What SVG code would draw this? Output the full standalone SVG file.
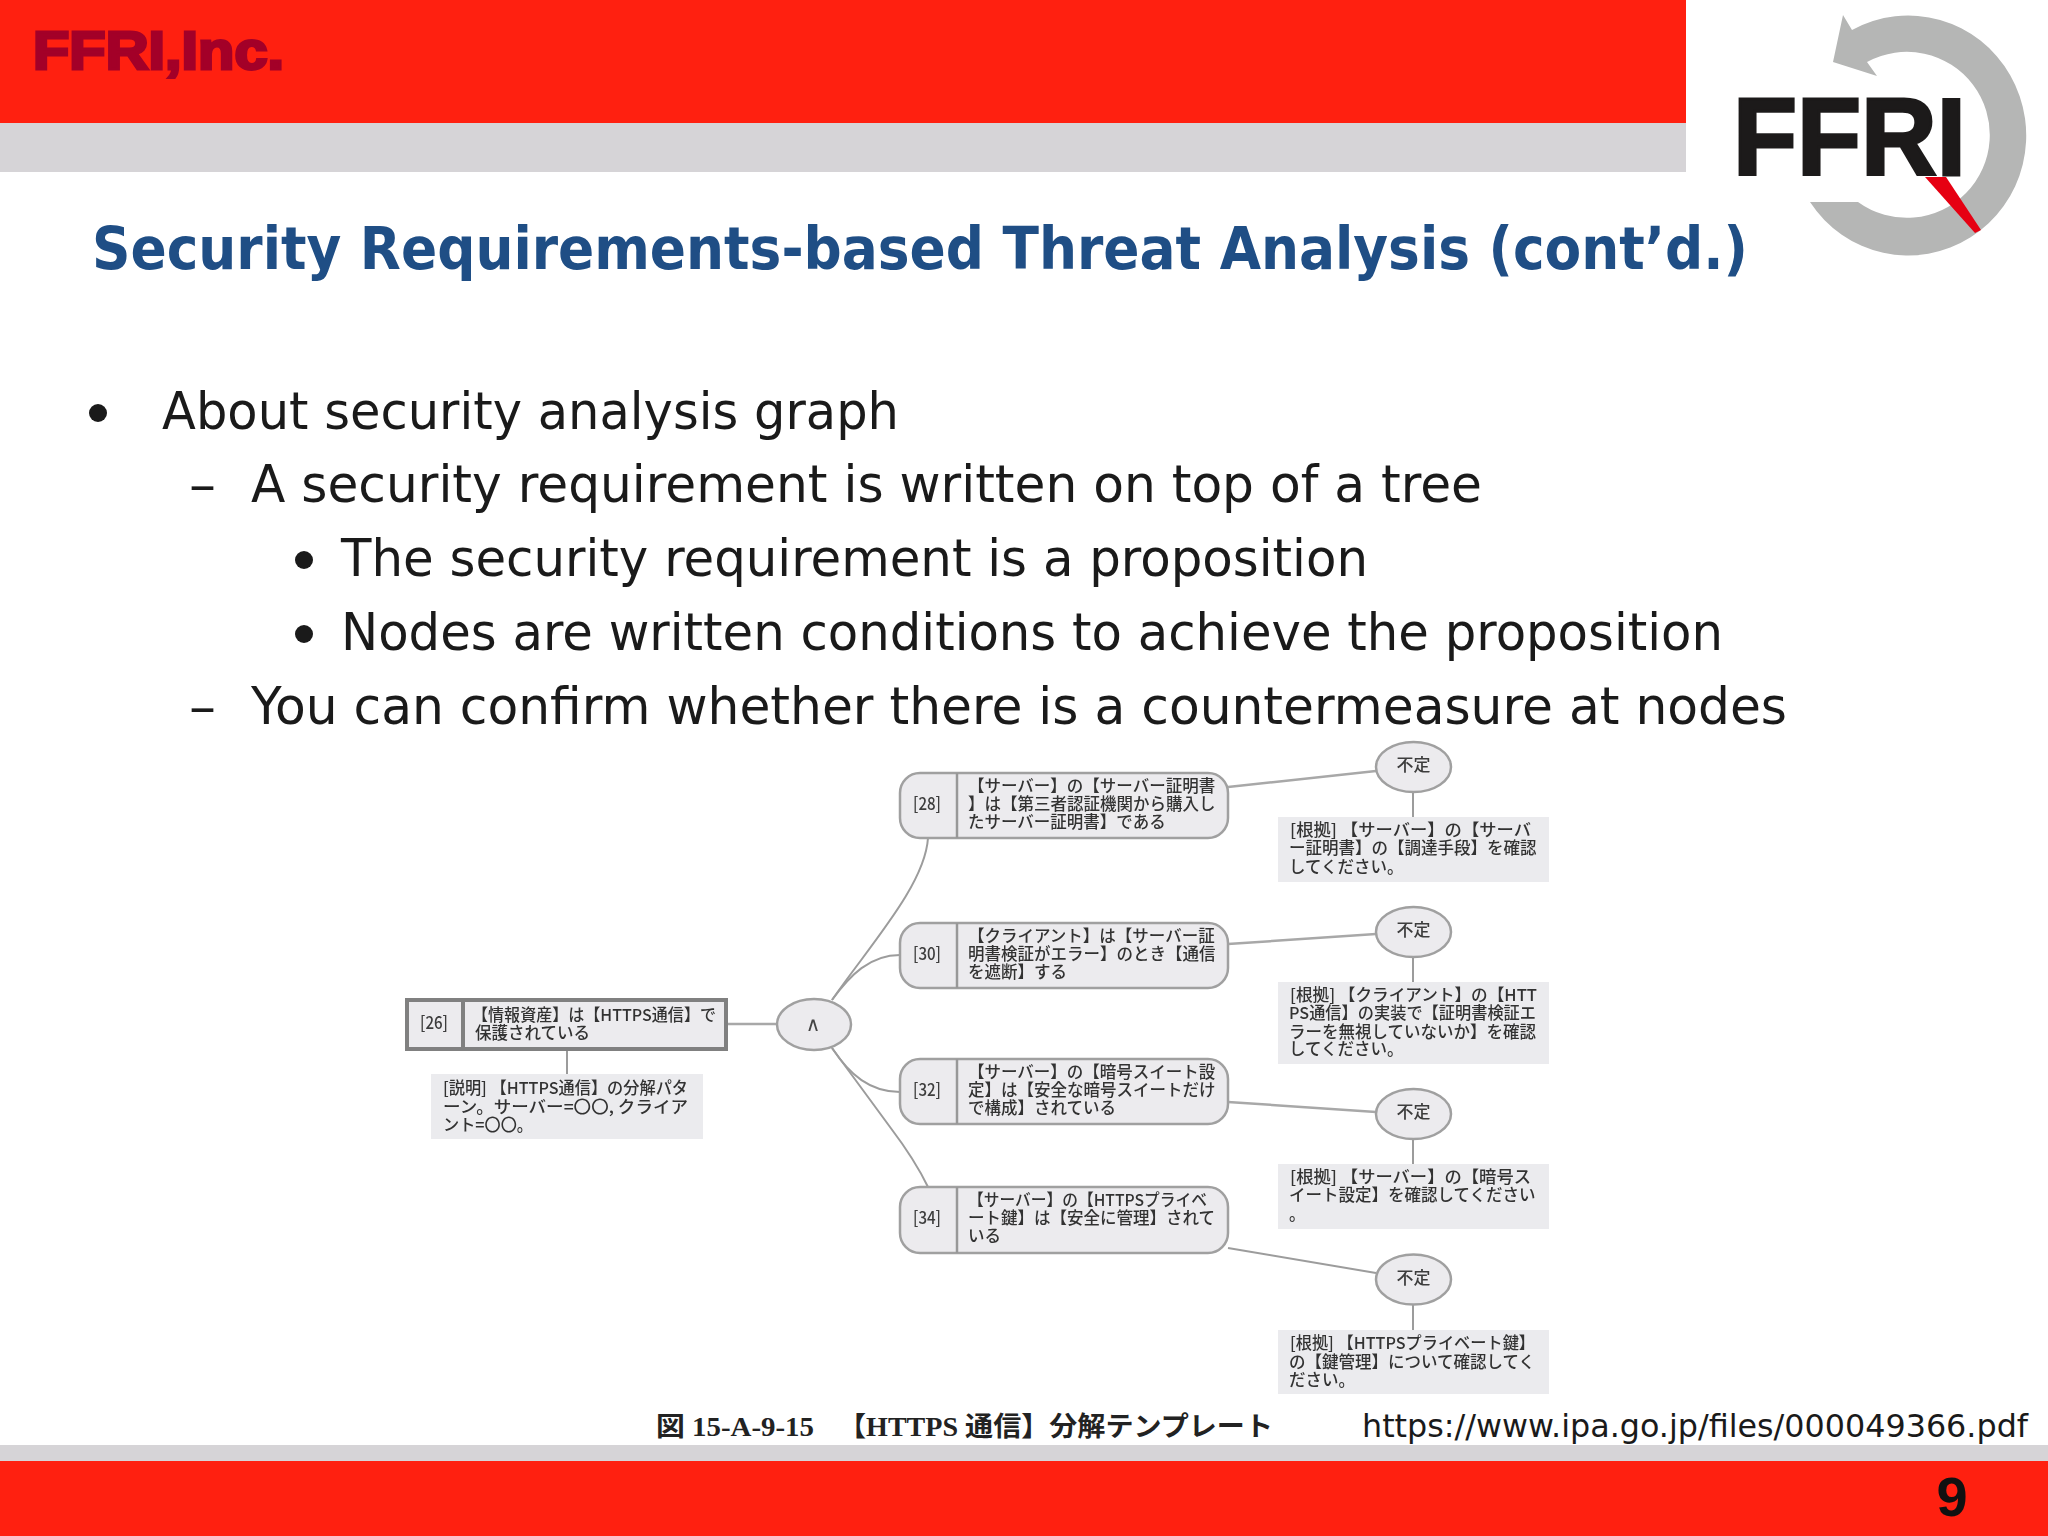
<svg xmlns="http://www.w3.org/2000/svg" width="2048" height="1536" viewBox="0 0 2048 1536">
<style>
.body{font-family:"DejaVu Sans","Noto Sans",sans-serif;font-size:52px;fill:#1a1a1a}
.jp{font-family:"Noto Sans CJK JP",sans-serif;font-size:16.5px;font-weight:500;fill:#333}
.id{font-family:"Noto Sans CJK JP",sans-serif;font-size:17px;font-weight:500;fill:#3c3c3c;text-anchor:middle}
.box{fill:#ecebee;stroke:#a0a0a0;stroke-width:2.5}
.note{fill:#ebebee}
.div{stroke:#989898;stroke-width:2.5;fill:none}
.line{stroke:#9c9c9c;stroke-width:2;fill:none}
.hv{stroke:#a8a8a8;stroke-width:2.5;fill:none}
</style>
<defs>
<filter id="soft" x="-2%" y="-2%" width="104%" height="104%"><feGaussianBlur stdDeviation="0.45"/></filter>
</defs>
<rect width="2048" height="1536" fill="#fff"/>
<g id="header">
<rect x="0" y="0" width="1686" height="123" fill="#ff2010"/>
<rect x="0" y="123" width="1686" height="49" fill="#d6d4d7"/>
<text x="33" y="69" font-family="Liberation Sans,sans-serif" font-weight="700" font-size="54" fill="#a30028" stroke="#a30028" stroke-width="3" textLength="251" lengthAdjust="spacingAndGlyphs">FFRI,Inc.</text>
</g>
<g id="logo">
<path d="M1810 202 A118 120 0 1 0 1852 30 L1843 15 L1833 62 L1877 76 L1867 62 A83 83 0 1 1 1858 202 Z" fill="#b5b6b5"/>
<text x="1733" y="175" font-family="Liberation Sans,sans-serif" font-weight="700" font-size="110" fill="#1c1a1a" stroke="#1c1a1a" stroke-width="3" textLength="233" lengthAdjust="spacingAndGlyphs">FFRI</text>
<polygon points="1925,177 1946,177 1981,230 1975,233" fill="#e60012"/>
</g>
<text id="title" x="92" y="269" font-family="DejaVu Sans,sans-serif" font-weight="700" font-size="58" fill="#1f4e85" textLength="1656" lengthAdjust="spacingAndGlyphs">Security Requirements-based Threat Analysis (cont’d.)</text>
<g id="bullets">
<circle cx="98" cy="413" r="9" fill="#1a1a1a"/>
<text class="body" x="162" y="429" textLength="737" lengthAdjust="spacingAndGlyphs">About security analysis graph</text>
<text class="body" x="189" y="502" textLength="27" lengthAdjust="spacingAndGlyphs">–</text>
<text class="body" x="251" y="502" textLength="1231" lengthAdjust="spacingAndGlyphs">A security requirement is written on top of a tree</text>
<circle cx="304" cy="560" r="9" fill="#1a1a1a"/>
<text class="body" x="341" y="576" textLength="1027" lengthAdjust="spacingAndGlyphs">The security requirement is a proposition</text>
<circle cx="304" cy="634" r="9" fill="#1a1a1a"/>
<text class="body" x="341" y="650" textLength="1382" lengthAdjust="spacingAndGlyphs">Nodes are written conditions to achieve the proposition</text>
<text class="body" x="189" y="724" textLength="27" lengthAdjust="spacingAndGlyphs">–</text>
<text class="body" x="251" y="724" textLength="1536" lengthAdjust="spacingAndGlyphs">You can confirm whether there is a countermeasure at nodes</text>
</g>
<g id="diagram" filter="url(#soft)">
<g id="connectors">
<path class="hv" d="M727 1024H777"/>
<path class="line" d="M567 1051V1074"/>
<path class="line" d="M832 1000C870 945 925 885 928 838"/>
<path class="line" d="M832 1000C850 975 870 955 900 955"/>
<path class="line" d="M832 1048C850 1075 870 1092 900 1092"/>
<path class="line" d="M832 1048L890 1127Q915 1160 928 1187"/>
<path class="hv" d="M1228 787L1376 771"/>
<path class="hv" d="M1228 944L1376 934"/>
<path class="hv" d="M1228 1102L1376 1112"/>
<path class="line" d="M1228 1248L1376 1273"/>
<path class="line" d="M1413 792V817"/>
<path class="line" d="M1413 957V982"/>
<path class="line" d="M1413 1139V1164"/>
<path class="line" d="M1413 1305V1330"/>
</g>
<g id="n26">
<rect x="407" y="1000" width="319" height="49" fill="#ecebee" stroke="#808080" stroke-width="4"/>
<path d="M463 1000V1049" stroke="#808080" stroke-width="4"/>
<text class="id" x="434" y="1029" textLength="28" lengthAdjust="spacingAndGlyphs">[26]</text>
<text class="jp"><tspan x="472" y="1021" textLength="244" lengthAdjust="spacingAndGlyphs">【情報資産】は【HTTPS通信】で</tspan><tspan x="475" y="1039">保護されている</tspan></text>
</g>
<g id="n26note">
<rect class="note" x="431" y="1074" width="272" height="65"/>
<text class="jp"><tspan x="443" y="1094" textLength="245" lengthAdjust="spacingAndGlyphs">[説明] 【HTTPS通信】の分解パタ</tspan><tspan x="443" y="1113" textLength="245" lengthAdjust="spacingAndGlyphs">ーン。サーバー=〇〇, クライア</tspan><tspan x="443" y="1131" textLength="90" lengthAdjust="spacingAndGlyphs">ント=〇〇。</tspan></text>
</g>
<g id="and">
<ellipse class="box" cx="814" cy="1024.5" rx="37" ry="25.5"/>
<text x="813" y="1031" font-family="DejaVu Sans,sans-serif" font-size="20" fill="#444" text-anchor="middle">∧</text>
</g>
<g id="n28">
<rect class="box" x="900" y="773" width="328" height="65" rx="20"/>
<path class="div" d="M957 773V838"/>
<text class="id" x="927" y="810" textLength="28" lengthAdjust="spacingAndGlyphs">[28]</text>
<text class="jp"><tspan x="968" y="792">【サーバー】の【サーバー証明書</tspan><tspan x="968" y="810">】は【第三者認証機関から購入し</tspan><tspan x="968" y="828">たサーバー証明書】である</tspan></text>
</g>
<g id="n30">
<rect class="box" x="900" y="923" width="328" height="65" rx="20"/>
<path class="div" d="M957 923V988"/>
<text class="id" x="927" y="960" textLength="28" lengthAdjust="spacingAndGlyphs">[30]</text>
<text class="jp"><tspan x="968" y="942">【クライアント】は【サーバー証</tspan><tspan x="968" y="960">明書検証がエラー】のとき【通信</tspan><tspan x="968" y="978">を遮断】する</tspan></text>
</g>
<g id="n32">
<rect class="box" x="900" y="1059" width="328" height="65" rx="20"/>
<path class="div" d="M957 1059V1124"/>
<text class="id" x="927" y="1096" textLength="28" lengthAdjust="spacingAndGlyphs">[32]</text>
<text class="jp"><tspan x="968" y="1078">【サーバー】の【暗号スイート設</tspan><tspan x="968" y="1096">定】は【安全な暗号スイートだけ</tspan><tspan x="968" y="1114">で構成】されている</tspan></text>
</g>
<g id="n34">
<rect class="box" x="900" y="1187" width="328" height="66" rx="20"/>
<path class="div" d="M957 1187V1253"/>
<text class="id" x="927" y="1224" textLength="28" lengthAdjust="spacingAndGlyphs">[34]</text>
<text class="jp"><tspan x="968" y="1206" textLength="239" lengthAdjust="spacingAndGlyphs">【サーバー】の【HTTPSプライベ</tspan><tspan x="968" y="1224">ート鍵】は【安全に管理】されて</tspan><tspan x="968" y="1242">いる</tspan></text>
</g>
<g id="c28"><ellipse class="box" cx="1413.5" cy="767" rx="37.5" ry="25"/><text class="id" x="1413.5" y="771">不定</text></g>
<g id="c30"><ellipse class="box" cx="1413.5" cy="932" rx="37.5" ry="25"/><text class="id" x="1413.5" y="936">不定</text></g>
<g id="c32"><ellipse class="box" cx="1413.5" cy="1114" rx="37.5" ry="25"/><text class="id" x="1413.5" y="1118">不定</text></g>
<g id="c34"><ellipse class="box" cx="1413.5" cy="1279.5" rx="37.5" ry="25"/><text class="id" x="1413.5" y="1284">不定</text></g>
<g id="note28">
<rect class="note" x="1278" y="817" width="271" height="65"/>
<text class="jp"><tspan x="1290" y="836" textLength="241" lengthAdjust="spacingAndGlyphs">[根拠] 【サーバー】の【サーバ</tspan><tspan x="1289" y="854">ー証明書】の【調達手段】を確認</tspan><tspan x="1289" y="873">してください。</tspan></text>
</g>
<g id="note30">
<rect class="note" x="1278" y="982" width="271" height="82"/>
<text class="jp"><tspan x="1290" y="1001" textLength="247" lengthAdjust="spacingAndGlyphs">[根拠] 【クライアント】の【HTT</tspan><tspan x="1289" y="1019" textLength="247" lengthAdjust="spacingAndGlyphs">PS通信】の実装で【証明書検証エ</tspan><tspan x="1289" y="1038">ラーを無視していないか】を確認</tspan><tspan x="1289" y="1055">してください。</tspan></text>
</g>
<g id="note32">
<rect class="note" x="1278" y="1164" width="271" height="65"/>
<text class="jp"><tspan x="1290" y="1183" textLength="241" lengthAdjust="spacingAndGlyphs">[根拠] 【サーバー】の【暗号ス</tspan><tspan x="1289" y="1201">イート設定】を確認してください</tspan><tspan x="1289" y="1220">。</tspan></text>
</g>
<g id="note34">
<rect class="note" x="1278" y="1330" width="271" height="64"/>
<text class="jp"><tspan x="1290" y="1349" textLength="245" lengthAdjust="spacingAndGlyphs">[根拠] 【HTTPSプライベート鍵】</tspan><tspan x="1289" y="1368">の【鍵管理】について確認してく</tspan><tspan x="1289" y="1386">ださい。</tspan></text>
</g>
</g>
<text id="caption" font-family="Liberation Serif,Noto Sans CJK JP,serif" font-weight="700" font-size="27" fill="#222"><tspan x="656" y="1436" textLength="158" lengthAdjust="spacingAndGlyphs">図 15-A-9-15</tspan><tspan x="838" y="1436" textLength="435" lengthAdjust="spacingAndGlyphs">【HTTPS 通信】分解テンプレート</tspan></text>
<text id="url" x="1362" y="1437" font-family="DejaVu Sans,sans-serif" font-size="32" fill="#1a1a1a" textLength="666" lengthAdjust="spacingAndGlyphs">https://www.ipa.go.jp/files/000049366.pdf</text>
<g id="footer">
<rect x="0" y="1445" width="2048" height="16" fill="#d6d4d7"/>
<rect x="0" y="1461" width="2048" height="75" fill="#ff2010"/>
<text x="1952" y="1516" font-family="Liberation Sans,sans-serif" font-weight="700" font-size="56" fill="#111" text-anchor="middle">9</text>
</g>
</svg>
